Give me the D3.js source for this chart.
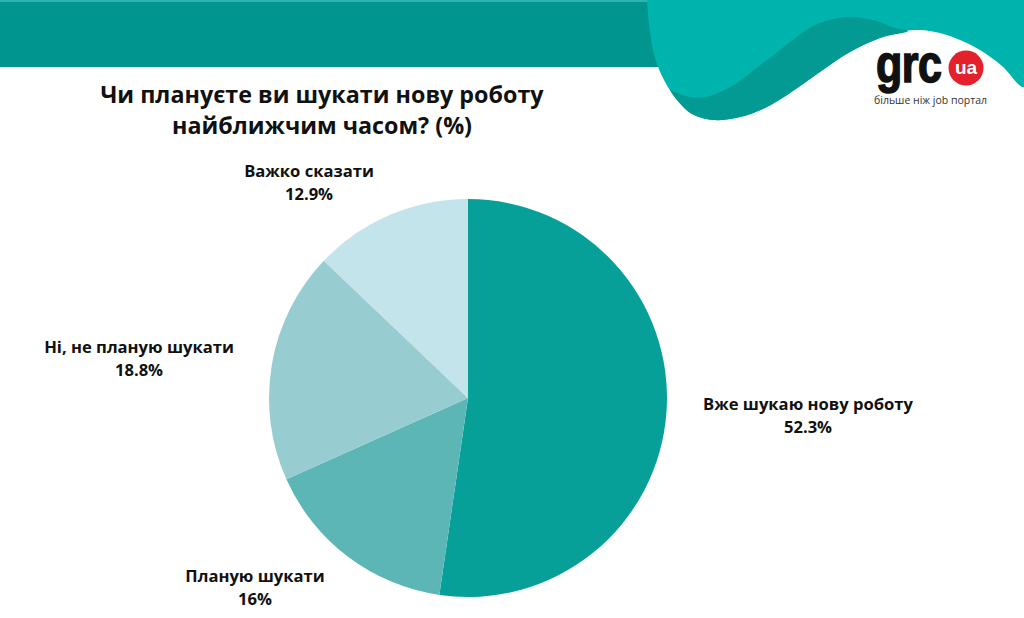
<!DOCTYPE html>
<html>
<head>
<meta charset="utf-8">
<script src="https://cdn.jsdelivr.net/npm/d3@7"></script>
<style>
  html, body { margin: 0; padding: 0; background: #ffffff; }
  svg { display: block; }
</style>
</head>
<body>
<svg id="chart" width="1024" height="618"></svg>
<script>
// ---- data ----
const categories = ["Вже шукаю нову роботу", "Планую шукати", "Ні, не планую шукати", "Важко сказати"];
const values = [52.3, 16, 18.8, 12.9];
const valueLabels = ["52.3%", "16%", "18.8%", "12.9%"];
const colors = ["#07a098", "#5db6b6", "#97cdd1", "#c3e4ea"];
const titleLines = ["Чи плануєте ви шукати нову роботу", "найближчим часом? (%)"];

// ---- layout (not data) ----
const W = 1024, H = 618;
const cx = 468, cy = 398, R = 199;
// label anchor offsets from pie centre (text centre x, first baseline y)
const labelOffsets = [[340, 12], [-213, 184], [-329, -45], [-159, -221]];
const FONT = "'Open Sans', 'Noto Sans', sans-serif";

const svg = d3.select("#chart");

// ---- header decoration ----
svg.append("rect").attr("x", 0).attr("y", 0).attr("width", 662).attr("height", 67).attr("fill", "#019590");
svg.append("rect").attr("x", 0).attr("y", 0).attr("width", W).attr("height", 2).attr("fill", "#2fb3ad");

const curve = d3.line().curve(d3.curveCatmullRom.alpha(0.5));
// light teal shape
const lightPts = [[646,0],[1024,0],[1024,87],[1002,66],[980,50],[960,40],[940,33],[920,30],[905,31],[880,38],[850,52],[820,72],[790,93],[765,108],[740,117],[713,120],[692,114],[677,100],[664,80],[655,58],[650,32],[647,0]];
svg.append("path").attr("d", curve(lightPts) + "Z").attr("fill", "#00b4ae");
// dark wave
const wavePts = [[670,90],[690,97],[706,97],[732,86],[763,63],[793,40],[815,25],[847,17],[873,20],[895,28],[908,31],[880,38],[850,52],[820,72],[790,93],[765,108],[740,117],[713,120],[692,114],[677,100],[670,90]];
svg.append("path").attr("d", curve(wavePts) + "Z").attr("fill", "#029a93");

// logo
svg.append("text").attr("transform", "translate(876,82) scale(1,1.22)")
  .attr("font-family", "'Liberation Sans', Arial, sans-serif").attr("font-weight", 700)
  .attr("font-size", 43).attr("letter-spacing", -0.5)
  .attr("fill", "#111").attr("stroke", "#111").attr("stroke-width", 1.3).text("grc");
svg.append("circle").attr("cx", 966).attr("cy", 68).attr("r", 17.5).attr("fill", "#e3202b");
svg.append("text").attr("x", 966).attr("y", 74).attr("text-anchor", "middle")
  .attr("font-family", "'Liberation Sans', Arial, sans-serif").attr("font-weight", 700)
  .attr("font-size", 19).attr("fill", "#ffffff").text("ua");
svg.append("text").attr("x", 874).attr("y", 104)
  .attr("font-family", "'Open Sans', sans-serif").attr("font-size", 11)
  .attr("textLength", 113).attr("lengthAdjust", "spacingAndGlyphs")
  .attr("fill", "#333").text("більше ніж job портал");

// ---- title ----
svg.append("g").selectAll("text").data(titleLines).join("text")
  .attr("x", 322).attr("y", (d, i) => 103 + i * 31)
  .attr("text-anchor", "middle")
  .attr("font-family", FONT).attr("font-weight", 700).attr("font-size", 23.3)
  .attr("fill", "#111").text(d => d);

// ---- pie ----
const pie = d3.pie().sort(null).value(d => d)(values);
const arc = d3.arc().innerRadius(0).outerRadius(R);
const g = svg.append("g").attr("transform", `translate(${cx},${cy})`);
g.selectAll("path").data(pie).join("path")
  .attr("d", arc).attr("fill", (d, i) => colors[i]);

// ---- labels ----
const lg = g.selectAll("g.lbl").data(pie).join("g").attr("class", "lbl")
  .attr("transform", (d, i) => `translate(${labelOffsets[i][0]},${labelOffsets[i][1]})`);
lg.append("text").attr("text-anchor", "middle")
  .attr("font-family", FONT).attr("font-weight", 700).attr("font-size", 16.6).attr("fill", "#111")
  .text((d, i) => categories[i]);
lg.append("text").attr("y", 23).attr("text-anchor", "middle")
  .attr("font-family", FONT).attr("font-weight", 700).attr("font-size", 16.6).attr("fill", "#111")
  .text((d, i) => valueLabels[i]);
</script>
</body>
</html>
